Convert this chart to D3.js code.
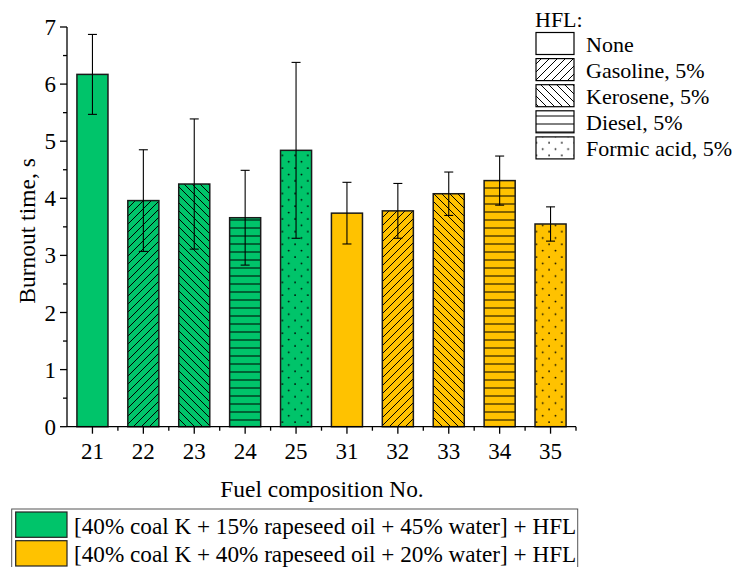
<!DOCTYPE html>
<html><head><meta charset="utf-8">
<script src="https://cdn.jsdelivr.net/npm/d3@7"></script>
<style>body{margin:0;background:#fff}svg{display:block}</style>
</head><body>
<svg id="c" width="732" height="567" font-family="'Liberation Serif', 'DejaVu Serif', serif"></svg>
<script>
const categories = ["21","22","23","24","25","31","32","33","34","35"];
const burnout    = [6.17, 3.96, 4.25, 3.66, 4.84, 3.74, 3.78, 4.08, 4.31, 3.55];
const errors     = [0.70, 0.89, 1.14, 0.83, 1.54, 0.54, 0.48, 0.38, 0.43, 0.30];
const mixtureIdx = [0,0,0,0,0,1,1,1,1,1];
const hflIdx     = [0,1,2,3,4,0,1,2,3,4];
const hflLabels  = ["None","Gasoline, 5%","Kerosene, 5%","Diesel, 5%","Formic acid, 5%"];
const mixtureLabels = ["[40% coal K + 15% rapeseed oil + 45% water] + HFL",
                       "[40% coal K + 40% rapeseed oil + 20% water] + HFL"];
const mixtureColors = ["#00C46A","#FFC200"];
const yTicks = [0,1,2,3,4,5,6,7];

const FONT = "Liberation Serif";
const svg = d3.select("#c");
const defs = svg.append("defs");
const X0 = 67, X1 = 576, Y0 = 426.7, Y1 = 27;
const x = d3.scaleBand().domain(categories).range([X0, X1]).paddingInner(0.39).paddingOuter(0.195);
const y = d3.scaleLinear().domain([0,7]).range([Y0, Y1]);

function txt(xp, yp, s, anchor, size){
  return svg.append("text").attr("x",xp).attr("y",yp).attr("font-family",FONT).attr("font-size",size||22)
    .attr("fill","#000").attr("text-anchor",anchor||"start").text(s);
}

// patterns
function pat(id, w, h, draw){
  const p = defs.append("pattern").attr("id",id).attr("patternUnits","userSpaceOnUse").attr("width",w).attr("height",h);
  draw(p); return p;
}
pat("p1",8,8,p=>{p.append("path").attr("d","M-2,2 L2,-2 M0,8 L8,0 M6,10 L10,6").attr("stroke","#000").attr("stroke-width",1);});
pat("p2",8,8,p=>{p.append("path").attr("d","M-2,6 L2,10 M0,0 L8,8 M6,-2 L10,2").attr("stroke","#000").attr("stroke-width",1);});
pat("p3",8,8,p=>{p.append("path").attr("d","M0,4 L8,4").attr("stroke","#000").attr("stroke-width",1);});
pat("p4",12.7,12.7,p=>{p.append("circle").attr("cx",3).attr("cy",3).attr("r",0.9).attr("fill","#000");
  p.append("circle").attr("cx",9.35).attr("cy",9.35).attr("r",0.9).attr("fill","#000");});
const patIds = [null,"p1","p2","p3","p4"];

// bars
const bars = svg.append("g");
categories.forEach((c,i)=>{
  const bx = x(c), bw = x.bandwidth(), by = y(burnout[i]), bh = Y0 - by;
  bars.append("rect").attr("x",bx).attr("y",by).attr("width",bw).attr("height",bh)
    .attr("fill",mixtureColors[mixtureIdx[i]]);
  if (patIds[hflIdx[i]]) bars.append("rect").attr("x",bx).attr("y",by).attr("width",bw).attr("height",bh)
    .attr("fill",`url(#${patIds[hflIdx[i]]})`);
  bars.append("rect").attr("x",bx).attr("y",by).attr("width",bw).attr("height",bh)
    .attr("fill","none").attr("stroke","#1a1a1a").attr("stroke-width",1.5);
});
// error bars
const eg = svg.append("g").attr("stroke","#000").attr("stroke-width",1.1);
categories.forEach((c,i)=>{
  const cx = x(c) + x.bandwidth()/2;
  const t = y(burnout[i]+errors[i]), b = y(burnout[i]-errors[i]);
  eg.append("line").attr("x1",cx).attr("x2",cx).attr("y1",t).attr("y2",b);
  eg.append("line").attr("x1",cx-4.5).attr("x2",cx+4.5).attr("y1",t).attr("y2",t);
  eg.append("line").attr("x1",cx-4.5).attr("x2",cx+4.5).attr("y1",b).attr("y2",b);
});

// axes
const ax = svg.append("g").attr("stroke","#000").attr("stroke-width",1.3);
ax.append("line").attr("x1",X0).attr("x2",X0).attr("y1",Y1).attr("y2",Y0);
ax.append("line").attr("x1",X0).attr("x2",X1).attr("y1",Y0).attr("y2",Y0);
yTicks.forEach(v=>{
  ax.append("line").attr("x1",X0-7).attr("x2",X0).attr("y1",y(v)).attr("y2",y(v));
  txt(X0-11, y(v)+8, v, "end", 23);
  if (v<7) ax.append("line").attr("x1",X0-4).attr("x2",X0).attr("y1",y(v+0.5)).attr("y2",y(v+0.5));
});
const step = x.step();
categories.forEach((c,i)=>{
  const cx = x(c)+x.bandwidth()/2;
  ax.append("line").attr("x1",cx).attr("x2",cx).attr("y1",Y0).attr("y2",Y0+7);
  ax.append("line").attr("x1",cx+step/2).attr("x2",cx+step/2).attr("y1",Y0).attr("y2",Y0+4);
  txt(cx, Y0+32, c, "middle", 23);
});
txt(322, 497, "Fuel composition No.", "middle", 23.4);
txt(0, 0, "Burnout time, s", "middle", 23.5).attr("transform","translate(35,231) rotate(-90)");

// HFL legend
txt(535, 27, "HFL:");
hflLabels.forEach((l,i)=>{
  const by = 32.5 + i*26.1;
  svg.append("rect").attr("x",536).attr("y",by).attr("width",38).attr("height",22)
    .attr("fill", i===0 ? "#fff" : `url(#${patIds[i]})`);
  svg.append("rect").attr("x",536).attr("y",by).attr("width",38).attr("height",22).attr("fill","none").attr("stroke","#000").attr("stroke-width",1.2);
  txt(586, by+19, l);
});

// bottom legend
svg.append("rect").attr("x",11.7).attr("y",509).attr("width",566).attr("height",70).attr("fill","none").attr("stroke","#555").attr("stroke-width",1);
mixtureLabels.forEach((l,i)=>{
  const by = 512 + i*28.7;
  svg.append("rect").attr("x",15.7).attr("y",by).attr("width",51.3).attr("height",25.3)
    .attr("fill",mixtureColors[i]).attr("stroke","#222").attr("stroke-width",1.2);
  txt(74, by+21.5, l, "start", 23.2);
});
</script>
</body></html>
